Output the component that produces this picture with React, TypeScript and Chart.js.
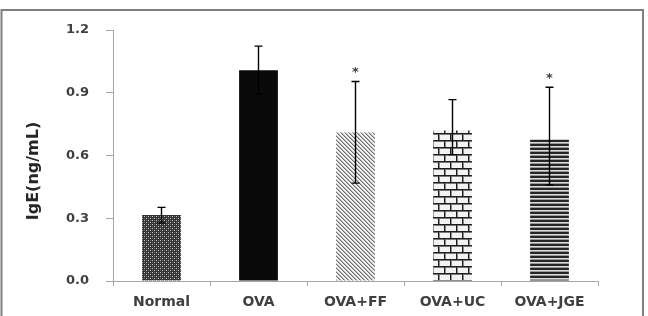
import { useEffect, useRef } from "react";
import { Chart, registerables } from "chart.js";

Chart.register(...registerables);

const categories = ["Normal", "OVA", "OVA+FF", "OVA+UC", "OVA+JGE"];
const means = [0.315, 1.008, 0.71, 0.72, 0.677];
const errUpper = [0.037, 0.115, 0.244, 0.147, 0.249];
const errLower = [0.037, 0.115, 0.242, 0.116, 0.218];
const significance = ["", "", "*", "", "*"];
const yTicks = [0, 0.3, 0.6, 0.9, 1.2];
const yTitle = "IgE(ng/mL)";

const FONT = "'DejaVu Sans', sans-serif";

function tile(w: number, h: number, draw: (g: CanvasRenderingContext2D) => void) {
  const c = document.createElement("canvas");
  c.width = w;
  c.height = h;
  const g = c.getContext("2d")!;
  draw(g);
  return c;
}

function px(g: CanvasRenderingContext2D, x: number, y: number, color: string, w = 1, h = 1) {
  g.fillStyle = color;
  g.fillRect(x, y, w, h);
}

function buildPatterns(ctx: CanvasRenderingContext2D) {
  const dots = tile(4, 4, (g) => {
    px(g, 0, 0, "#333333", 4, 4);
    px(g, 0, 0, "#c8c8c8");
    px(g, 2, 2, "#c8c8c8");
    px(g, 2, 0, "#707070");
    px(g, 0, 2, "#707070");
  });
  const diag = tile(4, 4, (g) => {
    for (let y = 0; y < 4; y++)
      for (let x = 0; x < 4; x++) {
        const m = (((x - y) % 4) + 4) % 4;
        px(g, x, y, m === 0 ? "#6e6e6e" : m === 1 ? "#b4b4b4" : "#f2f2f2");
      }
  });
  const brick = tile(12, 14, (g) => {
    px(g, 0, 0, "#f2f2f2", 12, 14);
    px(g, 0, 0, "#1e1e1e", 12, 1);
    px(g, 0, 1, "#7a7a7a", 12, 1);
    px(g, 0, 7, "#1e1e1e", 12, 1);
    px(g, 0, 8, "#7a7a7a", 12, 1);
    px(g, 0, 0, "#1e1e1e", 1, 7);
    px(g, 1, 2, "#8a8a8a", 1, 5);
    px(g, 6, 7, "#1e1e1e", 1, 7);
    px(g, 7, 9, "#8a8a8a", 1, 5);
  });
  const stripes = tile(4, 4, (g) => {
    px(g, 0, 0, "#262626", 4, 2);
    px(g, 0, 2, "#dcdcdc", 4, 1);
    px(g, 0, 3, "#9a9a9a", 4, 1);
  });
  return [
    ctx.createPattern(dots, "repeat"),
    "#0a0a0a",
    ctx.createPattern(diag, "repeat"),
    ctx.createPattern(brick, "repeat"),
    ctx.createPattern(stripes, "repeat"),
  ];
}

const framePlugin = {
  id: "frame",
  beforeDraw(chart: any) {
    const ctx = chart.ctx;
    ctx.save();
    ctx.strokeStyle = "#7f7f7f";
    ctx.lineWidth = 2;
    ctx.strokeRect(1.5, 10, 641.5, 400);
    ctx.restore();
  },
};

const errorPlugin = {
  id: "errorbars",
  afterDatasetsDraw(chart: any) {
    const ctx = chart.ctx;
    const y = chart.scales.y;
    const meta = chart.getDatasetMeta(0);
    ctx.save();
    ctx.strokeStyle = "#000000";
    ctx.lineWidth = 1.4;
    meta.data.forEach((bar: any, i: number) => {
      const x = bar.x;
      const top = y.getPixelForValue(means[i] + errUpper[i]);
      const bot = y.getPixelForValue(means[i] - errLower[i]);
      ctx.beginPath();
      ctx.moveTo(x, top);
      ctx.lineTo(x, bot);
      ctx.moveTo(x - 4, top);
      ctx.lineTo(x + 4, top);
      ctx.moveTo(x - 4, bot);
      ctx.lineTo(x + 4, bot);
      ctx.stroke();
      if (significance[i]) {
        ctx.fillStyle = "#404040";
        ctx.font = `bold 13px ${FONT}`;
        ctx.textAlign = "center";
        ctx.textBaseline = "alphabetic";
        ctx.fillText(significance[i], x, top - 5.5);
      }
    });
    ctx.restore();
  },
};

const titlePlugin = {
  id: "ytitle",
  afterDraw(chart: any) {
    const ctx = chart.ctx;
    const a = chart.chartArea;
    ctx.save();
    ctx.translate(a.left - 79.5, (a.top + a.bottom) / 2 + 15.5);
    ctx.rotate(-Math.PI / 2);
    ctx.fillStyle = "#262626";
    ctx.font = `bold 16px ${FONT}`;
    ctx.textAlign = "center";
    ctx.textBaseline = "middle";
    ctx.fillText(yTitle, 0, 0);
    ctx.restore();
  },
};

export default function App() {
  const ref = useRef<HTMLCanvasElement>(null);

  useEffect(() => {
    const canvas = ref.current!;
    const ctx = canvas.getContext("2d")!;
    const chart = new Chart(ctx, {
      type: "bar",
      data: {
        labels: categories,
        datasets: [
          {
            data: means,
            backgroundColor: buildPatterns(ctx) as any,
            borderWidth: 0,
            barPercentage: 0.4,
            categoryPercentage: 1,
          },
        ],
      },
      options: {
        animation: false,
        responsive: false,
        devicePixelRatio: 1,
        layout: { padding: { top: 30, right: 50, bottom: 0, left: 0 } },
        plugins: { legend: { display: false }, tooltip: { enabled: false } },
        scales: {
          x: {
            grid: {
              display: true,
              drawOnChartArea: false,
              drawTicks: true,
              tickLength: 5,
              color: "#a6a6a6",
              offset: true,
            },
            border: { color: "#a6a6a6", width: 1 },
            ticks: {
              color: "#404040",
              font: { family: FONT, size: 14, weight: "bold" },
              padding: 8,
              maxRotation: 0,
              autoSkip: false,
            },
            afterFit: (s: any) => {
              s.height = 35;
            },
          },
          y: {
            min: 0,
            max: 1.2,
            grid: {
              display: true,
              drawOnChartArea: false,
              drawTicks: true,
              tickLength: 7,
              color: "#a6a6a6",
            },
            border: { color: "#a6a6a6", width: 1 },
            ticks: {
              color: "#404040",
              font: { family: FONT, size: 13, weight: "bold" },
              padding: 17,
              callback: (v: any) => Number(v).toFixed(1),
            },
            afterBuildTicks: (s: any) => {
              s.ticks = yTicks.map((v) => ({ value: v }));
            },
            afterFit: (s: any) => {
              s.width = 113;
            },
          },
        },
      },
      plugins: [framePlugin, errorPlugin, titlePlugin],
    });
    return () => chart.destroy();
  }, []);

  return (
    <div style={{ position: "fixed", left: 0, top: 0, width: 648, height: 316, background: "#ffffff" }}>
      <canvas ref={ref} width={648} height={316} style={{ display: "block" }} />
    </div>
  );
}
